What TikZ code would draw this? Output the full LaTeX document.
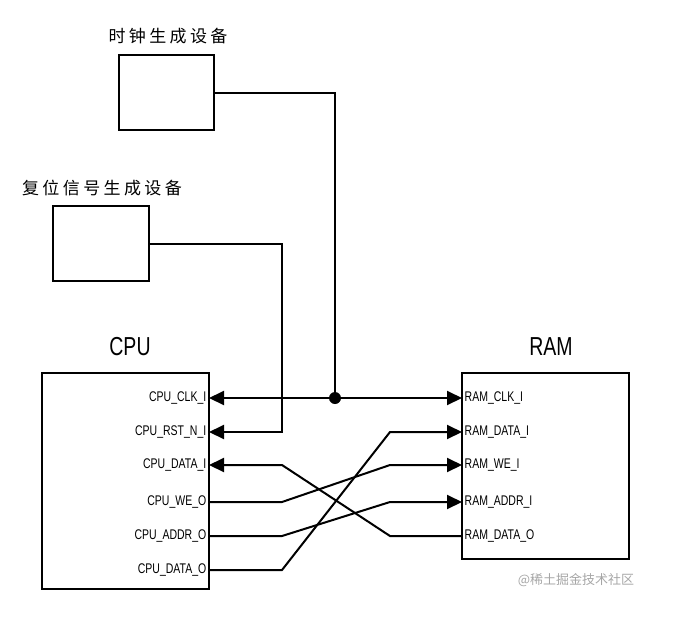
\documentclass[tikz,border=0pt]{standalone}
\usepackage{fontspec}
\setmainfont{Liberation Sans}
\newfontfamily\portfont[FakeStretch=0.75]{Liberation Sans}
\newfontfamily\cjkfont[LetterSpace=20]{Noto Sans CJK SC}
\newfontfamily\markfont{Noto Sans CJK SC}
\usetikzlibrary{arrows.meta}
\tikzstyle{device} = [rectangle,
                      minimum width=95pt,
                      minimum height=75pt,
                      inner sep=0pt,
                      draw=black,
                      line width=2pt]
\tikzstyle{chip} = [rectangle,
                    inner sep=0pt,
                    draw=black,
                    line width=2pt]
\tikzstyle{title} = [font=\portfont\fontsize{26}{28}\selectfont]
\tikzstyle{devname} = [font=\cjkfont\fontsize{17}{20}\selectfont]
\tikzstyle{port} = [font=\portfont\fontsize{14}{16}\selectfont,
                    inner sep=2.5pt]
\tikzstyle{wire} = [line width=2pt]
\tikzstyle{arrow} = [wire,
                     ->,
                     >={Triangle[length=15pt,width=14pt]}]
\tikzstyle{twoway} = [wire,
                      <->,
                      >={Triangle[length=15pt,width=14pt]}]

\begin{document}
\begin{tikzpicture}[x=1pt,y=-1pt]
    \useasboundingbox (0,0) rectangle (697,641);

    % devices
    \node (clk)    [device]                        at (166.5,92.5) {};
    \node (clkname) [devname]                      at (168,36)     {时钟生成设备};
    \node (rst)    [device, minimum width=96pt]    at (101,243.5)  {};
    \node (rstname) [devname]                      at (102,188)    {复位信号生成设备};

    % chips
    \node (cpu)    [chip, minimum width=167pt, minimum height=216pt] at (125.5,481) {};
    \node (cputitle) [title]                       at (130,347)    {CPU};
    \node (ram)    [chip, minimum width=167pt, minimum height=186pt] at (545.5,466) {};
    \node (ramtitle) [title]                       at (551,347)    {RAM};

    % pins
    \coordinate (cpuclk)  at (209,398);
    \coordinate (cpurst)  at (209,432);
    \coordinate (cpudin)  at (209,465);
    \coordinate (cpuwe)   at (209,502);
    \coordinate (cpuaddr) at (209,536);
    \coordinate (cpudout) at (209,570);
    \coordinate (ramclk)  at (462,398);
    \coordinate (ramdin)  at (462,432);
    \coordinate (ramwe)   at (462,465);
    \coordinate (ramaddr) at (462,502);
    \coordinate (ramdout) at (462,536);
    \coordinate (clkjoint) at (335,398);
    \coordinate (rstdrop)  at (282,432);

    \node (lcpuclk)  [port, anchor=east] at (cpuclk)  {CPU\_CLK\_I};
    \node (lcpurst)  [port, anchor=east] at (cpurst)  {CPU\_RST\_N\_I};
    \node (lcpudin)  [port, anchor=east] at (cpudin)  {CPU\_DATA\_I};
    \node (lcpuwe)   [port, anchor=east] at (cpuwe)   {CPU\_WE\_O};
    \node (lcpuaddr) [port, anchor=east] at (cpuaddr) {CPU\_ADDR\_O};
    \node (lcpudout) [port, anchor=east] at (cpudout) {CPU\_DATA\_O};
    \node (lramclk)  [port, anchor=west] at (ramclk)  {RAM\_CLK\_I};
    \node (lramdin)  [port, anchor=west] at (ramdin)  {RAM\_DATA\_I};
    \node (lramwe)   [port, anchor=west] at (ramwe)   {RAM\_WE\_I};
    \node (lramaddr) [port, anchor=west] at (ramaddr) {RAM\_ADDR\_I};
    \node (lramdout) [port, anchor=west] at (ramdout) {RAM\_DATA\_O};

    \node (mark) [font=\markfont\fontsize{13}{15}\selectfont, text=black!35] at (576,580) {@稀土掘金技术社区};

    % clock and reset
    \draw [twoway] (cpuclk) -- (ramclk);
    \draw [wire] (clk.east) -| (clkjoint);
    \fill (clkjoint) circle (6);
    \draw [arrow] (rst.east) -| (rstdrop) -- (cpurst);

    % data bus
    \draw [arrow] (cpuwe)   -- +(73,0) -- ([xshift=-72pt]ramwe)   -- (ramwe);
    \draw [arrow] (cpuaddr) -- +(73,0) -- ([xshift=-72pt]ramaddr) -- (ramaddr);
    \draw [arrow] (cpudout) -- +(73,0) -- ([xshift=-72pt]ramdin)  -- (ramdin);
    \draw [arrow] (ramdout) -- +(-72,0) -- ([xshift=73pt]cpudin)  -- (cpudin);

\end{tikzpicture}
\end{document}
